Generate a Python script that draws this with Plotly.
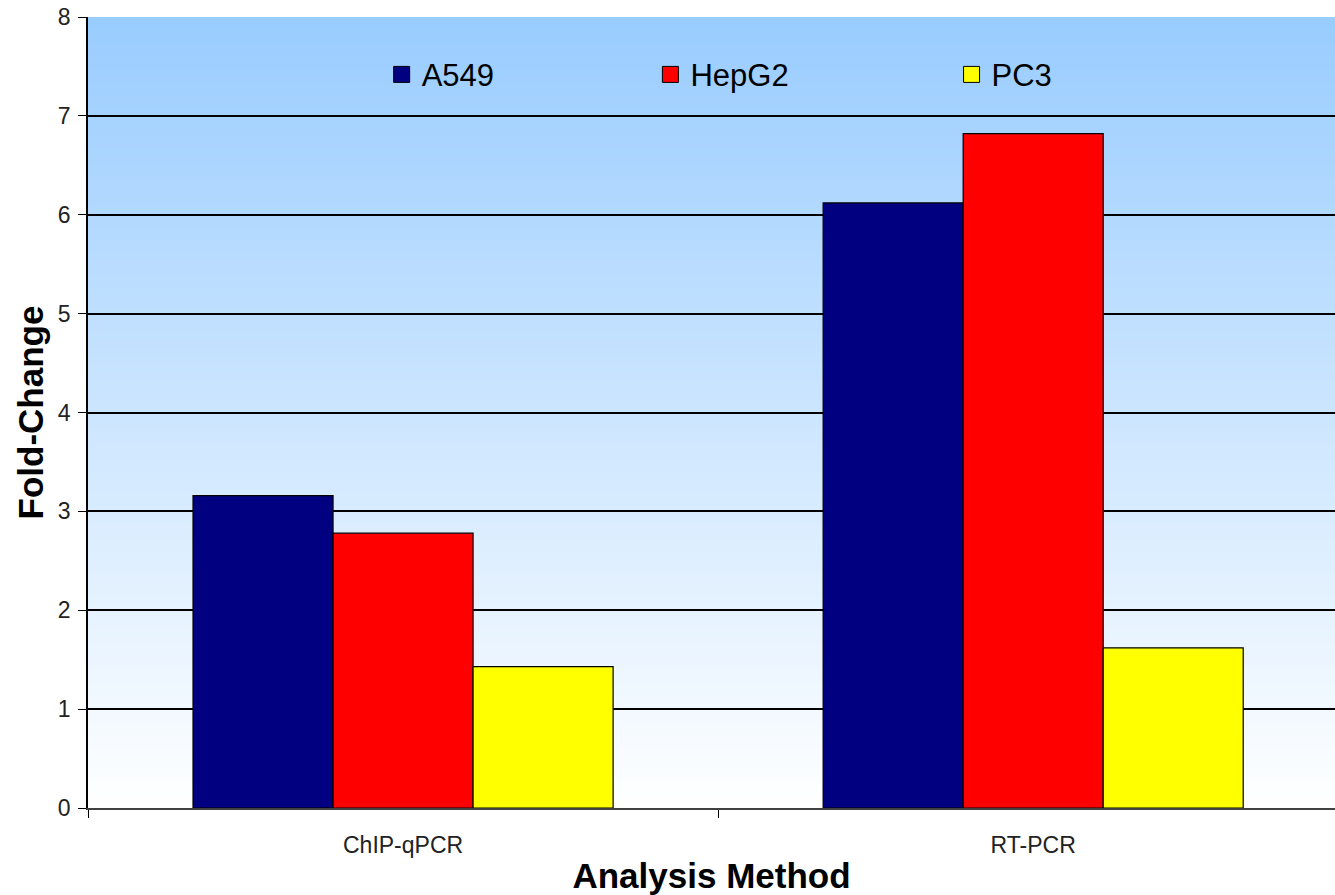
import plotly.graph_objects as go

categories = ["ChIP-qPCR", "RT-PCR"]
a549 = [3.16, 6.12]
hepg2 = [2.78, 6.82]
pc3 = [1.43, 1.62]
series_names = ["A549", "HepG2", "PC3"]
series_colors = ["#000080", "#FF0000", "#FFFF00"]
y_ticks = [0, 1, 2, 3, 4, 5, 6, 7, 8]

FONT = "Liberation Sans, Arial, sans-serif"

fig = go.Figure()
legend_ids = ["legend", "legend2", "legend3"]
for name, vals, col, lg in zip(series_names, [a549, hepg2, pc3], series_colors, legend_ids):
    fig.add_trace(go.Bar(
        x=categories, y=vals, name=name, showlegend=False,
        marker=dict(color=col, line=dict(color="#000000", width=1.2)),
    ))
    # legend proxy (larger square swatch)
    fig.add_trace(go.Scatter(
        x=[None], y=[None], mode="markers", name=name, legend=lg, showlegend=True,
        marker=dict(symbol="square", size=16, color=col, line=dict(color="#000000", width=1)),
    ))

# vertical gradient background (light blue at top to white at bottom)
N = 120
top = (153, 204, 255)
bot = (255, 255, 255)
shapes = []
for i in range(N):
    f = (i + 0.5) / N  # 0 bottom -> 1 top
    r = round(bot[0] + (top[0] - bot[0]) * f)
    g = round(bot[1] + (top[1] - bot[1]) * f)
    b = round(bot[2] + (top[2] - bot[2]) * f)
    shapes.append(dict(
        type="rect", xref="x domain", yref="y domain",
        x0=0, x1=1, y0=i / N, y1=min(1, (i + 1.6) / N),
        fillcolor=f"rgb({r},{g},{b})", line=dict(width=0), layer="below",
    ))

legend_common = dict(
    orientation="h", yanchor="middle", y=0.927, xanchor="left",
    bgcolor="rgba(0,0,0,0)", borderwidth=0,
    font=dict(family=FONT, size=31, color="#000000"),
)

fig.update_layout(
    width=1335, height=895,
    margin=dict(l=88, r=0, t=17, b=87),
    paper_bgcolor="#FFFFFF", plot_bgcolor="#FFFFFF",
    barmode="group", bargap=1/3, bargroupgap=0,
    shapes=shapes,
    showlegend=True,
    font=dict(family=FONT, color="#000000"),
    legend=dict(legend_common, x=0.2355),
    legend2=dict(legend_common, x=0.451),
    legend3=dict(legend_common, x=0.6925),
    xaxis=dict(
        range=[-0.5, 1.479], tickson="boundaries", ticks="outside", ticklen=8,
        tickcolor="#000000", showline=True, linecolor="#404040", linewidth=1.5,
        showgrid=False, tickfont=dict(family=FONT, size=23, color="#222222"),
        ticklabelstandoff=16, automargin=False,
        title=dict(text="<b>Analysis Method</b>", font=dict(family=FONT, size=35, color="#000000"), standoff=12),
    ),
    yaxis=dict(
        range=[0, 8], tickvals=y_ticks, ticks="outside", ticklen=8,
        tickcolor="#000000", showline=True, linecolor="#000000", linewidth=1.5,
        showgrid=True, gridcolor="#000000", gridwidth=1.5, zeroline=False,
        tickfont=dict(family=FONT, size=23, color="#222222"),
        ticklabelstandoff=3, automargin=False,
        title=dict(text="<b>Fold-Change</b>", font=dict(family=FONT, size=35, color="#000000"), standoff=4),
    ),
)

fig.write_html("out.html", config={"displayModeBar": False},
               post_script="document.body.style.margin='0';")
